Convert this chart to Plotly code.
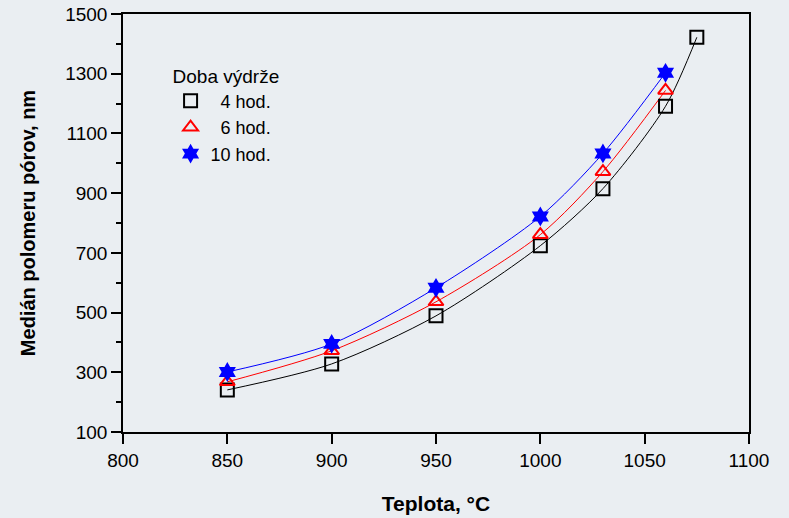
import plotly.graph_objects as go

temp_4h = [850, 900, 950, 1000, 1030, 1060, 1075]
med_4h = [241, 328, 489, 724, 915, 1191, 1422]
temp_6h = [850, 900, 950, 1000, 1030, 1060]
med_6h = [268, 372, 536, 761, 972, 1244]
temp_10h = [850, 900, 950, 1000, 1030, 1060]
med_10h = [301, 395, 583, 822, 1033, 1303]

labels = ["\u20074 hod.", "\u20076 hod.", "10 hod."]
colors = ["black", "red", "blue"]
symbols = ["square-open", "triangle-up-open", "hexagram"]
xs = [temp_4h, temp_6h, temp_10h]
ys = [med_4h, med_6h, med_10h]

bg = "#eaeef2"
fig = go.Figure()
for x, y, c, s, lab in zip(xs, ys, colors, symbols, labels):
    fig.add_trace(go.Scatter(x=x, y=y, mode="lines", line=dict(color=c, width=1, shape="spline", smoothing=0.8),
                             showlegend=False, hoverinfo="skip"))
for x, y, c, s, lab in zip(xs, ys, colors, symbols, labels):
    fig.add_trace(go.Scatter(x=x, y=y, mode="markers", name=lab,
                             marker=dict(symbol=s, color=c, size=13 if s != "hexagram" else 15,
                                         line=dict(color=c, width=2 if s != "hexagram" else 0))))

font = "Liberation Sans, Arial, sans-serif"
fig.update_layout(
    width=789, height=518,
    margin=dict(l=123, r=40, t=14, b=86, autoexpand=False),
    paper_bgcolor=bg, plot_bgcolor=bg,
    font=dict(family=font, size=19, color="black"),
    legend=dict(x=0.076, y=0.895, xanchor="left", yanchor="top", bgcolor="rgba(0,0,0,0)",
                title=dict(text="Doba výdrže", font=dict(size=19)),
                font=dict(size=18), tracegroupgap=0, itemwidth=30),
    xaxis=dict(range=[800, 1100], tick0=800, dtick=50, showgrid=False, zeroline=False, automargin=False,
               showline=True, linecolor="black", linewidth=1.5, mirror=True,
               ticks="outside", ticklen=10, tickwidth=1.5, tickcolor="black",
               title=dict(text="<b>Teplota, °C</b>", font=dict(size=21), standoff=27)),
    yaxis=dict(range=[100, 1500], tick0=100, dtick=200, showgrid=False, zeroline=False, automargin=False,
               showline=True, linecolor="black", linewidth=1.5, mirror=True,
               ticks="outside", ticklen=10, tickwidth=1.5, tickcolor="black",
               minor=dict(ticks="outside", ticklen=5, tick0=0, dtick=100, tickcolor="black", tickwidth=1.5, showgrid=False),
               title=dict(text="<b>Medián polomeru pórov, nm</b>", font=dict(size=20), standoff=24)),
)
fig.write_html("out.html", config={"displayModeBar": False},
               post_script="document.body.style.margin='0';document.body.style.background='%s';" % bg)
